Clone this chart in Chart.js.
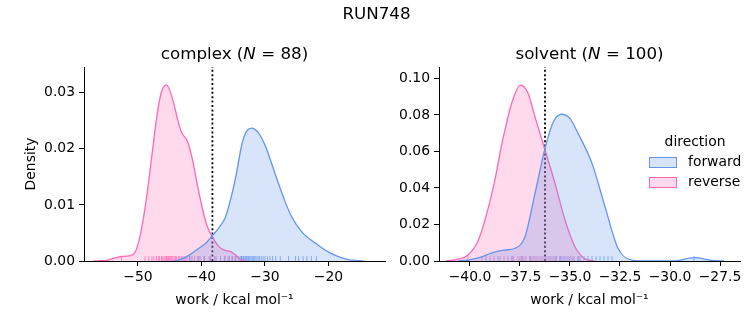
<!DOCTYPE html>
<html>
<head>
<meta charset="utf-8">
<script src="https://cdn.jsdelivr.net/npm/chart.js@4.4.1/dist/chart.umd.min.js"></script>
<style>
  body { margin: 0; background: #fff; font-family: "DejaVu Sans", sans-serif; }
  #wrap { position: relative; width: 753px; height: 325px; overflow: hidden; }
  canvas { position: absolute; top: 0; }
  .txt { position: absolute; color: #000; white-space: nowrap; }
  .patch { position: absolute; width: 26px; height: 9px; border: 1px solid; }
</style>
</head>
<body>
<div id="wrap">
  <canvas id="complex" width="400" height="325" style="left:0"></canvas>
  <canvas id="solvent" width="373" height="325" style="left:380px"></canvas>
  <div class="txt" style="left:0;width:753px;text-align:center;top:3px;font-size:16.7px">RUN748</div>
  <div class="txt" style="left:84px;width:301px;text-align:center;top:43px;font-size:16.7px">complex (<i>N</i> = 88)</div>
  <div class="txt" style="left:439px;width:301px;text-align:center;top:43px;font-size:16.7px">solvent (<i>N</i> = 100)</div>
  <div class="txt" style="left:645px;width:100px;text-align:center;top:133px;font-size:13.9px">direction</div>
  <div class="patch" style="left:649px;top:157px;background:rgba(100,149,237,0.25);border-color:#6495ed"></div>
  <div class="txt" style="left:688px;top:153px;font-size:13.9px">forward</div>
  <div class="patch" style="left:649px;top:177px;background:rgba(255,105,180,0.25);border-color:#ff69b4"></div>
  <div class="txt" style="left:688px;top:173px;font-size:13.9px">reverse</div>
</div>
<script>
// KDE curves
const complexForwardX = [-44.5, -43.5, -42, -40.5, -39.2, -38.3, -37.2, -36.2, -35.3, -34.6, -33.6, -32.8, -32.1, -31.0, -29.9, -28.9, -27.9, -26.8, -25.8, -24.2, -22.1, -19.7, -17.1, -14.5];
const complexForwardY = [0, 0.0002, 0.0010, 0.0022, 0.0033, 0.0045, 0.0060, 0.0079, 0.0115, 0.0150, 0.0210, 0.0233, 0.0237, 0.0228, 0.0204, 0.0172, 0.0139, 0.0105, 0.0079, 0.0052, 0.0032, 0.0014, 0.0003, 0];
const complexReverseX = [-57, -55, -53.5, -52.6, -51.5, -50.5, -49.7, -48.7, -47.9, -47.1, -46.35, -45.5, -44.5, -43.75, -43.2, -42.2, -41.4, -40.6, -39.8, -39.06, -38.28, -37.3, -36.3, -35.5, -34.8, -34.0, -33.0];
const complexReverseY = [0, 0.0001, 0.0006, 0.0008, 0.0009, 0.0015, 0.0043, 0.0109, 0.0180, 0.0252, 0.0300, 0.0314, 0.0287, 0.0252, 0.0231, 0.0213, 0.0180, 0.0133, 0.0091, 0.0061, 0.0043, 0.0026, 0.0019, 0.0017, 0.0012, 0.0004, 0];
const solventForwardX = [-40.6, -40.1, -39.5, -38.9, -38.3, -37.75, -37.25, -36.75, -36.25, -35.8, -35.4, -35.0, -34.6, -33.9, -33.25, -32.6, -31.9, -31.0, -29.8, -28.8, -27.9, -27.3];
const solventForwardY = [0, 0.0005, 0.0020, 0.0045, 0.0060, 0.0070, 0.0133, 0.0370, 0.0617, 0.0770, 0.0804, 0.0780, 0.0700, 0.0535, 0.0298, 0.0070, 0.0005, 0, 0.0001, 0.0018, 0.0003, 0];
const solventReverseX = [-41.2, -40.6, -40.1, -39.6, -39.25, -38.8, -38.4, -37.9, -37.47, -37.1, -36.75, -36.25, -35.75, -35.25, -34.75, -34.3, -33.8];
const solventReverseY = [0, 0.0010, 0.0033, 0.0110, 0.0225, 0.0420, 0.0645, 0.0870, 0.0964, 0.0920, 0.0790, 0.0608, 0.0426, 0.0225, 0.0078, 0.0015, 0];

// individual work values (rug)
const complexForwardRug = [-41.8, -40.4, -39.6, -38.6, -37.7, -37.0, -36.3, -35.8, -35.2, -34.6, -34.2, -33.9, -33.7, -33.6, -33.4, -33.3, -33.1, -32.9, -32.8, -32.6, -32.4, -32.2, -32.0, -31.8, -31.6, -31.4, -31.1, -30.9, -30.6, -30.3, -30.0, -29.6, -29.2, -28.8, -28.3, -27.6, -26.3, -25.2, -24.7, -24.0, -23.4, -22.7, -21.9];
const complexReverseRug = [-52.6, -48.9, -48.3, -47.8, -47.5, -47.1, -46.8, -46.6, -46.3, -46.1, -45.9, -45.7, -45.5, -45.4, -45.2, -45.0, -44.9, -44.7, -44.5, -44.3, -44.1, -43.9, -43.6, -43.4, -43.2, -42.9, -42.6, -42.3, -41.9, -41.5, -41.1, -40.6, -40.2, -39.5, -38.8, -37.9, -36.4, -35.6, -35.1, -34.7];
const solventForwardRug = [-39.2, -38.6, -37.9, -37.4, -37.0, -36.7, -36.4, -36.2, -36.0, -35.8, -35.7, -35.5, -35.4, -35.3, -35.1, -35.0, -34.8, -34.6, -34.5, -34.3, -34.1, -33.9, -33.7, -33.5, -33.3, -33.1, -32.9, -28.8];
const solventReverseRug = [-40.1, -39.4, -39.0, -38.8, -38.5, -38.3, -38.1, -37.9, -37.8, -37.6, -37.5, -37.4, -37.3, -37.2, -37.0, -36.9, -36.8, -36.6, -36.5, -36.3, -36.1, -35.9, -35.7, -35.5, -35.2, -34.9, -34.6];

// mean work (dotted line)
const complexMean = -38.28;
const solventMean = -36.25;

const complexXTicks = [-50, -40, -30, -20];
const complexYTicks = [0, 0.01, 0.02, 0.03];
const solventXTicks = [-40, -37.5, -35, -32.5, -30, -27.5];
const solventYTicks = [0, 0.02, 0.04, 0.06, 0.08, 0.10];

const BLUE = '#6495ed', PINK = '#ff69b4';
Chart.defaults.font.family = '"DejaVu Sans", sans-serif';
Chart.defaults.font.size = 13.9;
Chart.defaults.color = '#000';

function pts(xs, ys) { return xs.map((x, i) => ({x: x, y: ys[i]})); }

function kde(xs, ys, color, fillColor) {
    return {
        data: pts(xs, ys), borderColor: color, backgroundColor: fillColor,
        borderWidth: 1.3, pointRadius: 0, fill: 'origin', cubicInterpolationMode: 'monotone'
    };
}

function rug(values, ymax, color) {
    return {
        data: values.map(v => ({x: v, y: ymax * 0.0125})), showLine: false,
        pointStyle: 'line', rotation: 90, pointRadius: 2.5, pointHoverRadius: 2.5,
        borderColor: color, borderWidth: 1, fill: false
    };
}

function vline(x, ymax) {
    return {
        data: [{x: x, y: 0}, {x: x, y: ymax}], borderColor: '#000', borderWidth: 1.8,
        borderDash: [2, 2.4], pointRadius: 0, fill: false
    };
}

function makeChart(id, cfg) {
    const minus = s => String(s).replace('-', '\u2212');
    new Chart(document.getElementById(id), {
        type: 'line',
        data: {datasets: [
            kde(cfg.fx, cfg.fy, BLUE, 'rgba(100,149,237,0.25)'),
            kde(cfg.rx, cfg.ry, PINK, 'rgba(255,105,180,0.25)'),
            rug(cfg.fRug, cfg.ymax, 'rgba(100,149,237,0.75)'),
            rug(cfg.rRug, cfg.ymax, 'rgba(255,105,180,0.75)'),
            vline(cfg.mean, cfg.ymax)
        ]},
        options: {
            responsive: false, animation: false, events: [],
            layout: {padding: {top: 67, right: cfg.padRight, left: 0, bottom: 0}},
            plugins: {legend: {display: false}, tooltip: {enabled: false}},
            scales: {
                x: {
                    type: 'linear', min: cfg.xmin, max: cfg.xmax,
                    afterBuildTicks: s => { s.ticks = cfg.xTicks.map(v => ({value: v})); },
                    afterFit: s => { s.height = 64; },
                    ticks: {autoSkip: false, maxRotation: 0, padding: 3,
                        callback: v => minus(cfg.xFmt(v))},
                    grid: {drawOnChartArea: false, tickLength: 5, color: '#000'},
                    border: {color: '#000', width: 1},
                    title: {display: true, text: 'work / kcal mol\u207b\u00b9', padding: {top: 0, bottom: 16}}
                },
                y: {
                    min: 0, max: cfg.ymax,
                    afterBuildTicks: s => { s.ticks = cfg.yTicks.map(v => ({value: v})); },
                    afterFit: s => { s.width = cfg.yWidth; },
                    ticks: {padding: 4, callback: v => v.toFixed(2)},
                    grid: {drawOnChartArea: false, tickLength: 5, color: '#000'},
                    border: {color: '#000', width: 1},
                    title: {display: cfg.yTitle, text: 'Density', padding: {top: 23, bottom: 0}}
                }
            }
        }
    });
}

makeChart('complex', {
    fx: complexForwardX, fy: complexForwardY, rx: complexReverseX, ry: complexReverseY,
    fRug: complexForwardRug, rRug: complexReverseRug, mean: complexMean,
    xmin: -58.5, xmax: -11.1, ymax: 0.0346, xTicks: complexXTicks, yTicks: complexYTicks,
    xFmt: v => String(v), yWidth: 84, padRight: 15, yTitle: true
});
makeChart('solvent', {
    fx: solventForwardX, fy: solventForwardY, rx: solventReverseX, ry: solventReverseY,
    fRug: solventForwardRug, rRug: solventReverseRug, mean: solventMean,
    xmin: -41.55, xmax: -26.5, ymax: 0.1063, xTicks: solventXTicks, yTicks: solventYTicks,
    xFmt: v => v.toFixed(1), yWidth: 59, padRight: 13, yTitle: false
});
</script>
</body>
</html>
